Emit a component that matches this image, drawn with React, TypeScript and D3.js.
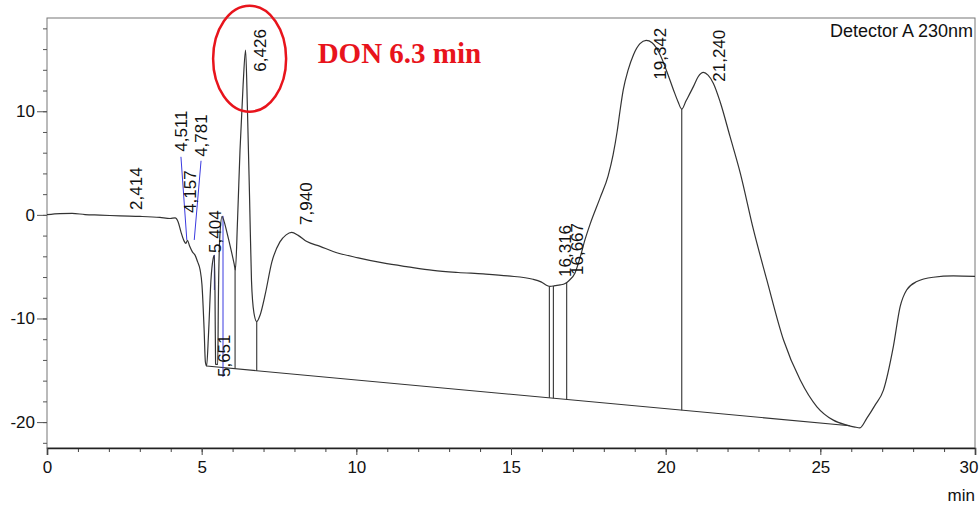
import * as d3 from "d3";
import { useEffect, useRef } from "react";

// chromatogram trace (time in min, signal in mV)
const times = [
  0.0, 0.42, 0.81, 1.23, 1.71, 2.36, 3.01, 3.65, 3.98, 4.14, 4.24, 4.33, 4.43, 4.49, 4.54, 4.61,
  4.7, 4.79, 4.87, 4.95, 5.01, 5.08, 5.12, 5.16, 5.22, 5.3, 5.37, 5.41, 5.43, 5.45, 5.52, 5.54,
  5.59, 5.66, 5.72, 5.82, 5.95, 6.05, 6.09, 6.16, 6.24, 6.34, 6.42, 6.48, 6.55, 6.61, 6.69, 6.78,
  6.89, 7.05, 7.27, 7.53, 7.73, 7.91, 8.12, 8.4, 8.83, 9.25, 10.06, 10.86, 11.67, 12.48, 13.29,
  14.1, 14.9, 15.71, 15.97, 16.16, 16.26, 16.42, 16.59, 16.75, 16.88, 17.07, 17.23, 17.39, 17.56,
  17.88, 18.14, 18.3, 18.43, 18.52, 18.63, 18.79, 18.96, 19.17, 19.37, 19.56, 19.82, 20.04, 20.25,
  20.4, 20.52, 20.66, 20.9, 21.05, 21.22, 21.37, 21.54, 21.76, 22.08, 22.41, 22.84, 23.27, 23.81,
  24.35, 24.89, 25.42, 25.86, 26.12, 26.28, 26.5, 26.77, 27.04, 27.36, 27.58, 27.79, 28.12, 28.65,
  29.3, 30.0,
];
const signal = [
  0.02, 0.12, 0.14, 0.03, -0.02, -0.1, -0.15, -0.25, -0.35, -0.29, -0.68, -1.64, -2.51, -2.75, -2.46,
  -3.0, -3.57, -3.91, -4.54, -5.31, -6.76, -11.11, -14.2, -14.59, -11.59, -6.28, -4.25, -3.91, -7.25,
  -14.4, -14.44, -8.21, -1.93, -0.14, -0.58, -1.74, -3.38, -4.73, -5.31, -0.48, 6.28, 12.56, 15.89,
  10.14, 1.45, -6.28, -9.47, -10.29, -9.66, -7.73, -4.54, -2.61, -1.93, -1.69, -1.98, -2.58, -3.04,
  -3.53, -4.15, -4.64, -5.02, -5.36, -5.56, -5.7, -5.89, -6.21, -6.47, -6.81, -6.91, -6.83, -6.76,
  -6.62, -6.33, -5.6, -4.15, -2.42, -0.87, 1.64, 3.77, 5.8, 8.02, 9.95, 12.08, 14.01, 15.46, 16.52,
  16.84, 16.62, 15.46, 13.82, 12.08, 10.92, 10.21, 11.01, 12.4, 13.33, 13.75, 13.48, 12.71, 10.92,
  7.57, 4.06, -1.45, -6.28, -12.08, -15.94, -18.52, -19.81, -20.29, -20.48, -20.55, -19.64, -18.36,
  -16.91, -12.72, -8.86, -7.25, -6.44, -6.02, -5.89, -5.94,
];

// integration baseline
const baselineTimes = [5.16, 25.95];
const baselineValues = [-14.59, -20.35];

// drop lines
const dropTimes = [6.08, 6.78, 16.24, 16.37, 16.8, 20.52];

// peak labels
const peakLabels = ["2,414", "4,511", "4,157", "4,781", "5,404", "5,651", "6,426", "7,940", "16,316", "16,667", "19,342", "21,240"];
const labelTimes = [2.89, 4.33, 4.62, 4.99, 5.42, 5.71, 6.89, 8.39, 16.75, 17.12, 19.82, 21.71];
const labelLevels = [0.48, 6.09, 0.19, 5.6, -3.67, -15.65, 13.82, -0.97, -5.99, -5.8, 13.04, 12.85];

// blue leader lines
const leaderFromTimes = [4.33, 4.98, 5.69, 5.41];
const leaderFromLevels = [5.6, 5.22, -0.1, -3.87];
const leaderToTimes = [4.52, 4.76, 5.69, 5.41];
const leaderToLevels = [-2.42, -2.42, -15.65, -7.25];

const xTicks = [0, 5, 10, 15, 20, 25, 30];
const yTicks = [-20, -10, 0, 10];

function App() {
  const ref = useRef(null);

  useEffect(() => {
    drawChart();
  }, []);

  const drawChart = () => {
    const width = 979;
    const height = 509;
    const font = "'Liberation Sans', Arial, sans-serif";

    d3.select(ref.current).selectAll("*").remove();

    const svg = d3
      .select(ref.current)
      .append("svg")
      .attr("width", width)
      .attr("height", height)
      .style("display", "block")
      .style("background", "#fff");

    const xScale = d3.scaleLinear().domain([0, 30]).range([47, 975]);
    const yScale = d3.scaleLinear().domain([-22.5, 19]).range([448, 18]);

    // frame
    svg
      .append("rect")
      .attr("x", 47)
      .attr("y", 18)
      .attr("width", 928)
      .attr("height", 430)
      .attr("fill", "none")
      .attr("stroke", "#777")
      .attr("stroke-width", 1);

    // y axis minor + major
    const yMinor = svg
      .append("g")
      .attr("transform", "translate(47,0)")
      .call(d3.axisLeft(yScale).tickValues(d3.range(-22, 19, 2)).tickSize(4).tickFormat(""));
    yMinor.select(".domain").remove();
    yMinor.selectAll("line").attr("stroke", "#555");

    const yMajor = svg
      .append("g")
      .attr("transform", "translate(47,0)")
      .call(d3.axisLeft(yScale).tickValues(yTicks).tickSize(10).tickPadding(2).tickFormat((d) => String(d)));
    yMajor.select(".domain").remove();
    yMajor.selectAll("line").attr("stroke", "#555");
    yMajor.selectAll("text").attr("font-family", font).attr("font-size", 17).attr("fill", "#111");

    // x axis
    const xMinor = svg
      .append("g")
      .attr("transform", "translate(0,448)")
      .call(d3.axisBottom(xScale).tickValues(d3.range(0, 31, 1)).tickSize(4).tickFormat(""));
    xMinor.select(".domain").remove();
    xMinor.selectAll("line").attr("stroke", "#444");

    const xMajor = svg
      .append("g")
      .attr("transform", "translate(0,448)")
      .call(d3.axisBottom(xScale).tickValues(xTicks).tickSize(7).tickPadding(6).tickFormat((d) => String(d)));
    xMajor.select(".domain").attr("stroke", "#222").attr("stroke-width", 1.6);
    xMajor.selectAll("line").attr("stroke", "#444");
    xMajor.selectAll("text").attr("font-family", font).attr("font-size", 17).attr("fill", "#111");
    // last label sits against the right edge
    xMajor
      .selectAll("text")
      .filter((d) => d === 30)
      .attr("text-anchor", "end")
      .attr("x", 3);

    svg
      .append("text")
      .attr("x", 975)
      .attr("y", 501)
      .attr("text-anchor", "end")
      .attr("font-family", font)
      .attr("font-size", 17)
      .attr("fill", "#111")
      .text("min");

    svg
      .append("text")
      .attr("x", 973)
      .attr("y", 37)
      .attr("text-anchor", "end")
      .attr("font-family", font)
      .attr("font-size", 18)
      .attr("fill", "#111")
      .text("Detector A 230nm");

    const data = times.map((t, i) => ({ t, v: signal[i] }));
    const bis = d3.bisector((d) => d.t).left;
    const signalAt = (t) => {
      const i = Math.max(1, Math.min(data.length - 1, bis(data, t)));
      const a = data[i - 1];
      const b = data[i];
      return a.v + ((t - a.t) / (b.t - a.t)) * (b.v - a.v);
    };
    const baseAt = (t) =>
      baselineValues[0] +
      ((t - baselineTimes[0]) / (baselineTimes[1] - baselineTimes[0])) * (baselineValues[1] - baselineValues[0]);

    // baseline
    svg
      .append("line")
      .attr("x1", xScale(baselineTimes[0]))
      .attr("y1", yScale(baselineValues[0]))
      .attr("x2", xScale(baselineTimes[1]))
      .attr("y2", yScale(baselineValues[1]))
      .attr("stroke", "#333")
      .attr("stroke-width", 1.1);

    // drop lines
    svg
      .append("g")
      .selectAll("line")
      .data(dropTimes)
      .join("line")
      .attr("x1", (d) => xScale(d))
      .attr("x2", (d) => xScale(d))
      .attr("y1", (d) => yScale(signalAt(d)))
      .attr("y2", (d) => yScale(baseAt(d)))
      .attr("stroke", "#333")
      .attr("stroke-width", 1.1);

    // leader lines
    svg
      .append("g")
      .selectAll("line")
      .data(leaderFromTimes)
      .join("line")
      .attr("x1", (d) => xScale(d))
      .attr("y1", (d, i) => yScale(leaderFromLevels[i]))
      .attr("x2", (d, i) => xScale(leaderToTimes[i]))
      .attr("y2", (d, i) => yScale(leaderToLevels[i]))
      .attr("stroke", "#3a3ae0")
      .attr("stroke-width", 1);

    // the trace
    const line = d3
      .line()
      .x((d) => xScale(d.t))
      .y((d) => yScale(d.v))
      .curve(d3.curveMonotoneX);

    svg
      .append("path")
      .datum(data)
      .attr("fill", "none")
      .attr("stroke", "#333")
      .attr("stroke-width", 1.2)
      .attr("d", line);

    // peak labels (rotated)
    svg
      .append("g")
      .selectAll("text")
      .data(peakLabels)
      .join("text")
      .attr("transform", (d, i) => `translate(${xScale(labelTimes[i])},${yScale(labelLevels[i])}) rotate(-90)`)
      .attr("dy", "0.35em")
      .attr("font-family", font)
      .attr("font-size", 17)
      .attr("fill", "#111")
      .text((d) => d);

    // annotation
    svg
      .append("ellipse")
      .attr("cx", xScale(6.55))
      .attr("cy", yScale(15.07))
      .attr("rx", 36.5)
      .attr("ry", 53)
      .attr("fill", "none")
      .attr("stroke", "#e8141c")
      .attr("stroke-width", 2.5);

    svg
      .append("text")
      .attr("x", xScale(8.75))
      .attr("y", yScale(14.7))
      .attr("font-family", "'Liberation Serif', 'Times New Roman', serif")
      .attr("font-weight", "bold")
      .attr("font-size", 29)
      .attr("fill", "#e8141c")
      .text("DON 6.3 min");
  };

  return <div ref={ref} style={{ position: "absolute", left: 0, top: 0 }}></div>;
}

export default App;
